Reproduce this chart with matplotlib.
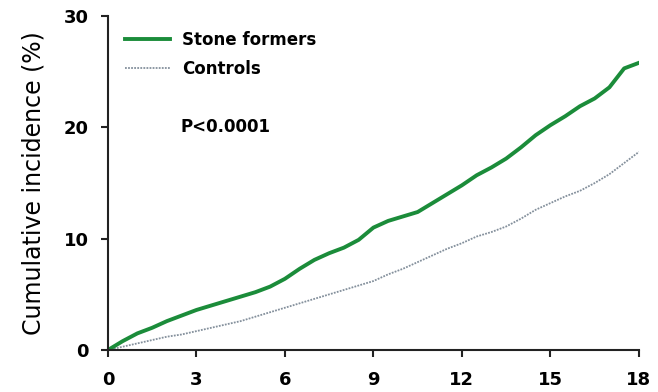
import matplotlib
matplotlib.use("Agg")
import matplotlib.pyplot as plt
from matplotlib.lines import Line2D

plt.rcParams['font.family'] = ['DejaVu Sans']

# follow-up time (years)
years = [0, 0.5, 1, 1.5, 2, 2.5, 3, 3.5, 4, 4.5, 5, 5.5, 6, 6.5, 7, 7.5, 8, 8.5,
         9, 9.5, 10, 10.5, 11, 11.5, 12, 12.5, 13, 13.5, 14, 14.5, 15, 15.5,
         16, 16.5, 17, 17.5, 18]

# cumulative incidence (%)
stone_formers = [0, 0.8, 1.5, 2.0, 2.6, 3.1, 3.6, 4.0, 4.4, 4.8, 5.2, 5.7, 6.4,
                 7.3, 8.1, 8.7, 9.2, 9.9, 11.0, 11.6, 12.0, 12.4, 13.2, 14.0,
                 14.8, 15.7, 16.4, 17.2, 18.2, 19.3, 20.2, 21.0, 21.9, 22.6,
                 23.6, 25.3, 25.8]
controls = [0, 0.3, 0.6, 0.9, 1.2, 1.4, 1.7, 2.0, 2.3, 2.6, 3.0, 3.4, 3.8, 4.2,
            4.6, 5.0, 5.4, 5.8, 6.2, 6.8, 7.3, 7.9, 8.5, 9.1, 9.6, 10.2, 10.6,
            11.1, 11.8, 12.6, 13.2, 13.8, 14.3, 15.0, 15.8, 16.8, 17.8]

x_ticks = [0, 3, 6, 9, 12, 15, 18]
y_ticks = [0, 10, 20, 30]

GREEN = '#1b8c3a'
GRAY = '#84909c'
AXIS = '#222222'

fig = plt.figure(figsize=(6.58, 3.92), dpi=100)
ax = fig.add_axes([0.164, 0.107, 0.807, 0.852])

ax.plot(years, controls, color=GRAY, lw=1.3, linestyle=(0, (1, 0.7)))
ax.plot(years, stone_formers, color=GREEN, lw=2.8)

ax.set_xlim(0, 18)
ax.set_ylim(0, 30)
ax.set_xticks(x_ticks)
ax.set_yticks(y_ticks)
ax.tick_params(direction='out', length=5, width=1.5, color=AXIS, labelsize=13)
ax.tick_params(axis='x', pad=10)
ax.tick_params(axis='y', pad=9)
for lbl in ax.get_xticklabels() + ax.get_yticklabels():
    lbl.set_fontweight('bold')

for side in ['top', 'right']:
    ax.spines[side].set_visible(False)
for side in ['left', 'bottom']:
    ax.spines[side].set_linewidth(1.5)
    ax.spines[side].set_color(AXIS)

ax.set_ylabel('Cumulative incidence (%)', fontsize=17)
ax.yaxis.set_label_coords(-0.118, 0.5)

handles = [Line2D([], [], color=GREEN, lw=2.8),
           Line2D([], [], color=GRAY, lw=1.3, linestyle=(0, (1, 0.7)))]
fig.legend(handles, ['Stone formers', 'Controls'], loc='upper left',
           bbox_to_anchor=(0.19, 0.921), frameon=False, borderpad=0,
           borderaxespad=0, handlelength=2.7, handletextpad=0.72,
           labelspacing=0.68, prop={'weight': 'bold', 'size': 12})

ax.text(2.45, 20, 'P<0.0001', fontsize=12, fontweight='bold', va='center')

fig.savefig('out.png', dpi=100)
